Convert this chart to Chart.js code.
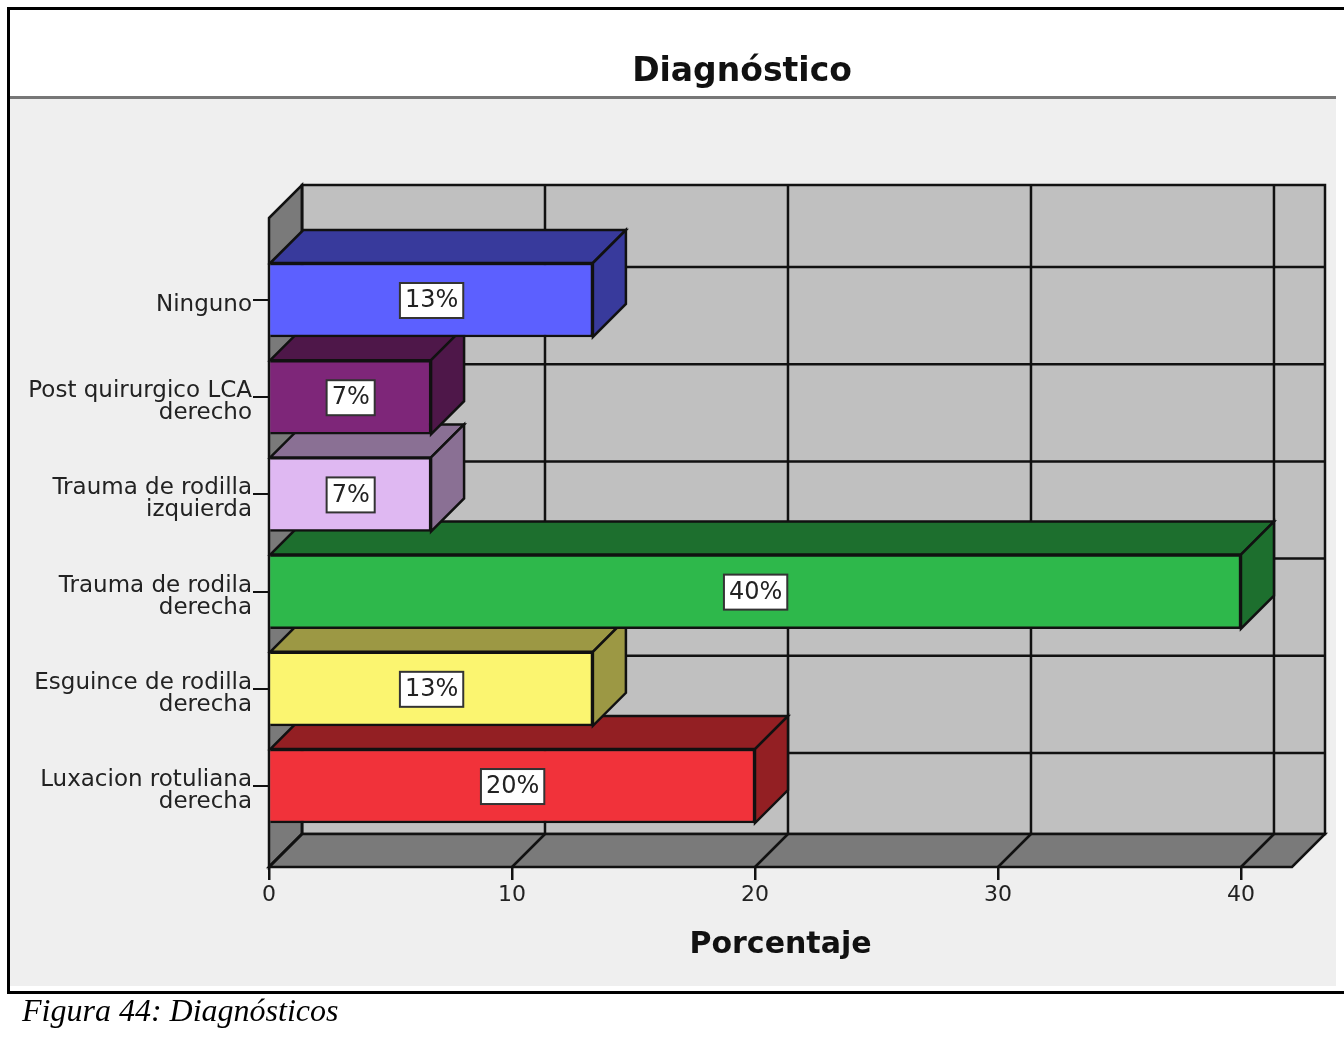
<!DOCTYPE html>
<html>
<head>
<meta charset="utf-8">
<title>Diagnóstico</title>
<script src="https://cdn.jsdelivr.net/npm/chart.js@4"></script>
<style>
    html, body { margin: 0; padding: 0; background: #fff; overflow: hidden; }
    #page { position: relative; width: 1344px; height: 1046px; }
    #topLine { position: absolute; left: 7px; right: 0; top: 7px; height: 3px; background: #000; }
    #bottomLine { position: absolute; left: 7px; right: 0; top: 991px; height: 3px; background: #000; }
    #leftLine { position: absolute; left: 7px; top: 7px; width: 3px; height: 986px; background: #000; }
    #panel { position: absolute; left: 10px; top: 96px; width: 1326px; height: 890px; background: #efefef; box-sizing: border-box; border-top: 3px solid #777; }
    #chart { position: absolute; left: 0; top: 0; }
    #caption { position: absolute; left: 22px; top: 992px; font: italic 32px "Liberation Serif", serif; color: #000; }
</style>
</head>
<body>
<div id="page">
    <div id="panel"></div>
    <div id="topLine"></div>
    <div id="bottomLine"></div>
    <div id="leftLine"></div>
    <canvas id="chart" width="1344" height="1046"></canvas>
    <div id="caption">Figura 44: Diagnósticos</div>
</div>
<script>
const categories = [
    "Ninguno",
    ["Post quirurgico LCA", "derecho"],
    ["Trauma de rodilla", "izquierda"],
    ["Trauma de rodila", "derecha"],
    ["Esguince de rodilla", "derecha"],
    ["Luxacion rotuliana", "derecha"]
];
const percentages = [13.33, 6.67, 6.67, 40, 13.33, 20];
const barLabels = ["13%", "7%", "7%", "40%", "13%", "20%"];
const frontColors = ["#5c60ff", "#7e2679", "#dfb8f2", "#2eb84b", "#fbf570", "#f1323a"];
const depthColors = ["#383a9c", "#4e1749", "#8a7094", "#1d6f2e", "#9c9844", "#931f23"];
const xTicks = [0, 10, 20, 30, 40];

const depth = 33;
const lineColor = "#111";
const wallColor = "#c0c0c0";
const sideColor = "#7a7a7a";
const textColor = "#222";
const labelFont = '"DejaVu Sans", sans-serif';

function poly(ctx, points, fill) {
    ctx.beginPath();
    points.forEach((p, i) => i ? ctx.lineTo(p[0], p[1]) : ctx.moveTo(p[0], p[1]));
    ctx.closePath();
    ctx.fillStyle = fill;
    ctx.fill();
    ctx.stroke();
}

function line(ctx, x1, y1, x2, y2) {
    ctx.beginPath();
    ctx.moveTo(x1, y1);
    ctx.lineTo(x2, y2);
    ctx.stroke();
}

const box3d = {
    id: "box3d",
    afterLayout(chart) {
        // the title sits left of the plot centre in the original
        chart.titleBlock.left = 192;
    },
    beforeDatasetsDraw(chart) {
        const ctx = chart.ctx;
        const a = chart.chartArea;
        const xs = chart.scales.x;
        const ys = chart.scales.y;
        ctx.save();
        ctx.strokeStyle = lineColor;
        ctx.lineWidth = 2.5;

        // walls and floor
        poly(ctx, [[a.left + depth, a.top - depth], [a.right + depth, a.top - depth], [a.right + depth, a.bottom - depth], [a.left + depth, a.bottom - depth]], wallColor);
        poly(ctx, [[a.left, a.top], [a.left + depth, a.top - depth], [a.left + depth, a.bottom - depth], [a.left, a.bottom]], sideColor);
        poly(ctx, [[a.left, a.bottom], [a.left + depth, a.bottom - depth], [a.right + depth, a.bottom - depth], [a.right, a.bottom]], sideColor);

        // grid on the back wall
        xTicks.forEach(t => {
            const x = xs.getPixelForValue(t);
            line(ctx, x + depth, a.top - depth, x + depth, a.bottom - depth);
            line(ctx, x, a.bottom, x + depth, a.bottom - depth);
        });
        categories.forEach((c, i) => {
            const y = ys.getPixelForValue(i);
            line(ctx, a.left + depth, y - depth, a.right + depth, y - depth);
        });

        // top and side of each bar, lowest bar first
        const bars = chart.getDatasetMeta(0).data;
        for (let i = bars.length - 1; i >= 0; i--) {
            const b = bars[i].getProps(["x", "y", "base", "height"]);
            const top = b.y - b.height / 2;
            const bottom = b.y + b.height / 2;
            poly(ctx, [[b.base, top], [b.base + depth, top - depth], [b.x + depth, top - depth], [b.x, top]], depthColors[i]);
            poly(ctx, [[b.x, top], [b.x + depth, top - depth], [b.x + depth, bottom - depth], [b.x, bottom]], depthColors[i]);
        }
        ctx.restore();
    },
    afterDatasetsDraw(chart) {
        const ctx = chart.ctx;
        ctx.save();
        ctx.font = "24px " + labelFont;
        ctx.textAlign = "center";
        ctx.textBaseline = "middle";
        chart.getDatasetMeta(0).data.forEach((bar, i) => {
            const b = bar.getProps(["x", "y", "base"]);
            const cx = (b.x + b.base) / 2;
            const w = ctx.measureText(barLabels[i]).width + 10;
            ctx.fillStyle = "#fff";
            ctx.strokeStyle = "#333";
            ctx.lineWidth = 2;
            ctx.fillRect(cx - w / 2, b.y - 17, w, 35);
            ctx.strokeRect(cx - w / 2, b.y - 17, w, 35);
            ctx.fillStyle = textColor;
            ctx.fillText(barLabels[i], cx, b.y + 1);
        });
        ctx.restore();
    }
};

new Chart(document.getElementById("chart"), {
    type: "bar",
    data: {
        datasets: [{
            data: percentages.map((v, i) => ({ x: v, y: i })),
            backgroundColor: frontColors,
            borderColor: lineColor,
            borderWidth: 2.5,
            barThickness: 74
        }]
    },
    options: {
        indexAxis: "y",
        responsive: false,
        animation: false,
        layout: { padding: { left: 0, right: 52, top: 0, bottom: 80 } },
        plugins: {
            legend: { display: false },
            tooltip: { enabled: false },
            title: {
                display: true,
                text: "Diagnóstico",
                color: "#111",
                font: { family: labelFont, size: 33, weight: "bold", lineHeight: 1.2 },
                padding: { top: 53, bottom: 125.4 }
            }
        },
        scales: {
            x: {
                type: "linear",
                min: 0,
                max: 42.1,
                afterBuildTicks: s => { s.ticks = xTicks.map(v => ({ value: v })); },
                afterFit: s => { s.height = 99; },
                grid: { drawOnChartArea: false, color: lineColor, lineWidth: 2.5, tickLength: 13 },
                border: { display: false },
                ticks: { color: textColor, padding: 2, maxRotation: 0, font: { family: labelFont, size: 22 } },
                title: {
                    display: true,
                    text: "Porcentaje",
                    color: "#111",
                    padding: { top: 0, bottom: 3 },
                    font: { family: labelFont, size: 30, weight: "bold", lineHeight: 1.2 }
                }
            },
            y: {
                type: "linear",
                reverse: true,
                offset: false,
                min: -0.8436,
                max: 5.833,
                afterBuildTicks: s => { s.ticks = categories.map((c, i) => ({ value: i })); },
                afterFit: s => { s.width = 269; },
                grid: { offset: false, drawOnChartArea: false, color: lineColor, lineWidth: 2, tickLength: 16 },
                border: { display: false },
                ticks: {
                    color: textColor,
                    padding: 1,
                    labelOffset: 5,
                    font: { family: labelFont, size: 23, lineHeight: 0.956 },
                    callback: v => categories[v]
                }
            }
        }
    },
    plugins: [box3d]
});
</script>
</body>
</html>
